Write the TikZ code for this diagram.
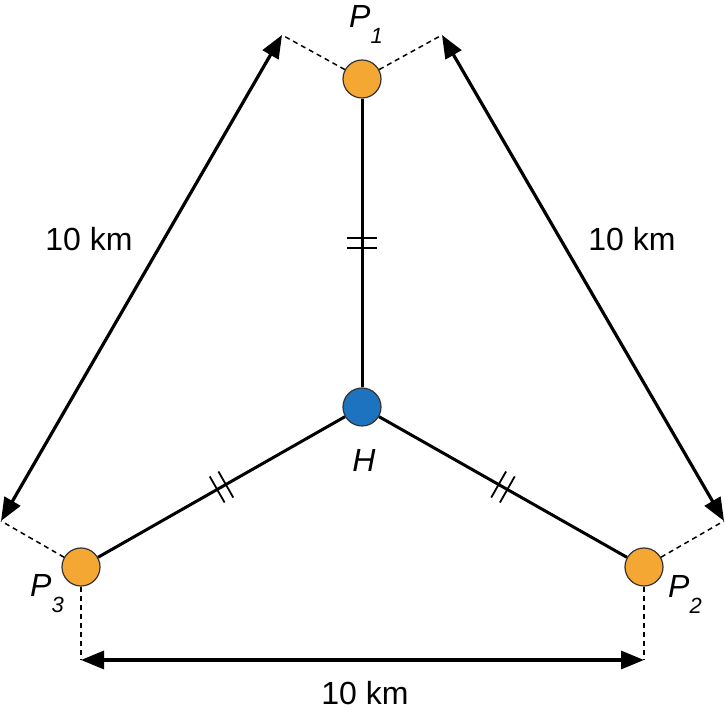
\documentclass[tikz,border=0pt]{standalone}
\usepackage{fontspec}
\setmainfont{Liberation Sans}
\usetikzlibrary{arrows.meta,decorations.markings}
\definecolor{sitecol}{RGB}{245,167,52}
\definecolor{hubcol}{RGB}{30,115,190}
\begin{document}
\begin{tikzpicture}[x=0.5pt,y=-0.5pt,
        site/.style={circle,draw=black!80,line width=0.6pt,fill=sitecol,minimum size=19pt,inner sep=0pt},
        hub/.style={site,fill=hubcol},
        road/.style={line width=1.5pt,postaction={decorate},
            decoration={markings,mark=at position 0.5 with {
                \draw[line width=0.9pt] (-2.5pt,-7.5pt) -- (-2.5pt,7.5pt);
                \draw[line width=0.9pt] (2.5pt,-7.5pt) -- (2.5pt,7.5pt);}}},
        extline/.style={line width=0.75pt,dash pattern=on 2.5pt off 2pt},
        dimline/.style={line width=1.6pt,{Triangle[length=11.5pt,width=9pt]}-{Triangle[length=11.5pt,width=9pt]}},
        lbl/.style={font=\fontsize{16}{19}\selectfont}]
        \useasboundingbox (0,0) rectangle (725,721);
        \node[site] (P1) at (362,79) {};
        \node[hub] (H) at (362,407) {};
        \node[site] (P3) at (81,567) {};
        \node[site] (P2) at (644,567) {};
        \coordinate (L1) at (282,35);
        \coordinate (L3) at (1,521);
        \coordinate (R1) at (442,35);
        \coordinate (R2) at (724,521);
        \coordinate (B3) at (81,660);
        \coordinate (B2) at (644,660);
        \draw[road] (P1) -- (H);
        \draw[road] (H) -- (P3);
        \draw[road] (H) -- (P2);
        \draw[extline] (P1) -- (L1);
        \draw[extline] (P1) -- (R1);
        \draw[extline] (P3) -- (L3);
        \draw[extline] (P2) -- (R2);
        \draw[extline] (P3) -- (B3);
        \draw[extline] (P2) -- (B2);
        \draw[dimline] (L1) -- (L3);
        \draw[dimline] (R1) -- (R2);
        \draw[dimline] (B3) -- (B2);
        \node[lbl] (dL) at (89,239) {10 km};
        \node[lbl] (dR) at (632,239) {10 km};
        \node[lbl] (dB) at (365,693) {10 km};
        \node[lbl] (nP1) at (366,24) {\itshape P\raisebox{-8pt}{\fontsize{11}{12}\selectfont 1}};
        \node[lbl] (nP3) at (47,594) {\itshape P\raisebox{-8pt}{\fontsize{11}{12}\selectfont 3}};
        \node[lbl] (nP2) at (685,594) {\itshape P\raisebox{-8pt}{\fontsize{11}{12}\selectfont 2}};
        \node[lbl] (nH) at (364,460) {\itshape H};
    \end{tikzpicture}
\end{document}
